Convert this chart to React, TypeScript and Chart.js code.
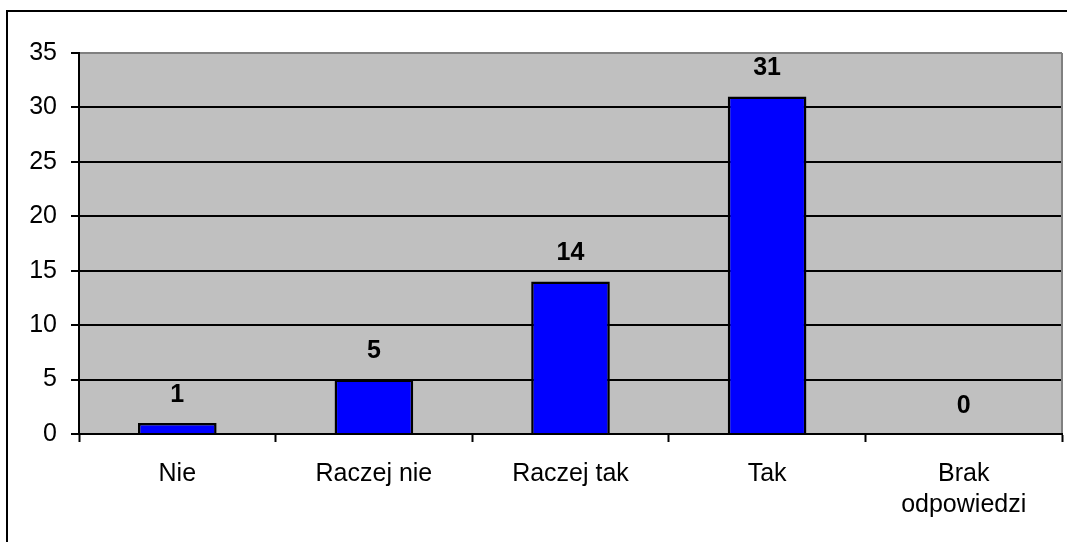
import React, { useEffect, useRef } from "react";
import { Chart, registerables } from "chart.js";

Chart.register(...registerables);

const categories: (string | string[])[] = ["Nie", "Raczej nie", "Raczej tak", "Tak", ["Brak", "odpowiedzi"]];
const values: number[] = [1, 5, 14, 31, 0];
const yMax = 35;
const yStep = 5;

const FONT = "'Liberation Sans', Arial, sans-serif";

const framePlugin = {
  id: "frame",
  beforeDraw(chart: any) {
    const { ctx, chartArea } = chart;
    ctx.save();
    ctx.fillStyle = "#ffffff";
    ctx.fillRect(0, 0, chart.width, chart.height);
    ctx.fillStyle = "#C0C0C0";
    ctx.fillRect(chartArea.left, chartArea.top, chartArea.right - chartArea.left, chartArea.bottom - chartArea.top);
    ctx.strokeStyle = "#000";
    ctx.lineWidth = 2;
    ctx.beginPath();
    ctx.moveTo(7, chart.height + 10);
    ctx.lineTo(7, 11);
    ctx.lineTo(chart.width + 10, 11);
    ctx.stroke();
    ctx.restore();
  },
  afterDraw(chart: any) {
    const { ctx, chartArea } = chart;
    ctx.save();
    ctx.strokeStyle = "#808080";
    ctx.lineWidth = 2;
    ctx.beginPath();
    ctx.moveTo(chartArea.right, chartArea.top);
    ctx.lineTo(chartArea.right, chartArea.bottom - 1);
    ctx.stroke();
    ctx.restore();
  },
};

const valueLabelPlugin = {
  id: "valueLabels",
  afterDatasetsDraw(chart: any) {
    const { ctx } = chart;
    const meta = chart.getDatasetMeta(0);
    ctx.save();
    ctx.font = `bold 25px ${FONT}`;
    ctx.fillStyle = "#000";
    ctx.textAlign = "center";
    ctx.textBaseline = "middle";
    meta.data.forEach((bar: any, i: number) => {
      ctx.fillText(String(values[i]), bar.x, bar.y - 28);
    });
    ctx.restore();
  },
};

export default function App() {
  const ref = useRef<HTMLCanvasElement>(null);
  useEffect(() => {
    if (!ref.current) return;
    const chart = new Chart(ref.current, {
      type: "bar",
      data: {
        labels: categories,
        datasets: [
          {
            data: values,
            backgroundColor: "#0000FF",
            borderColor: "#000",
            borderWidth: (c: any) => (c.raw === 0 ? 0 : 2.5),
            categoryPercentage: 0.8,
            barPercentage: 0.5,
          },
        ],
      },
      options: {
        animation: false,
        responsive: false,
        maintainAspectRatio: false,
        layout: { padding: { top: 53, right: 5, left: 0, bottom: 0 } },
        plugins: { legend: { display: false }, tooltip: { enabled: false } },
        scales: {
          x: {
            offset: true,
            grid: {
              offset: true,
              drawOnChartArea: false,
              drawTicks: true,
              tickLength: 8,
              tickColor: "#000",
              tickWidth: 2,
            },
            border: { display: true, color: "#000", width: 2 },
            ticks: {
              color: "#000",
              font: { family: FONT, size: 25, lineHeight: 1.25 },
              padding: 16,
              maxRotation: 0,
              autoSkip: false,
            },
            afterFit(scale: any) {
              scale.height = 108;
            },
          },
          y: {
            min: 0,
            max: yMax,
            ticks: {
              stepSize: yStep,
              color: "#000",
              font: { family: FONT, size: 25 },
              padding: 14,
            },
            grid: {
              color: (c: any) => (c.tick && c.tick.value === yMax ? "#808080" : "#000"),
              lineWidth: 2,
              tickLength: 8,
              tickColor: "#000",
              tickWidth: 2,
            },
            border: { display: true, color: "#000", width: 2 },
            afterFit(scale: any) {
              scale.width = 79;
            },
          },
        },
      },
      plugins: [framePlugin, valueLabelPlugin],
    } as any);
    return () => chart.destroy();
  }, []);
  return (
    <div style={{ position: "absolute", left: 0, top: 0, width: 1067, height: 542 }}>
      <canvas ref={ref} width={1067} height={542} style={{ display: "block" }} />
    </div>
  );
}
